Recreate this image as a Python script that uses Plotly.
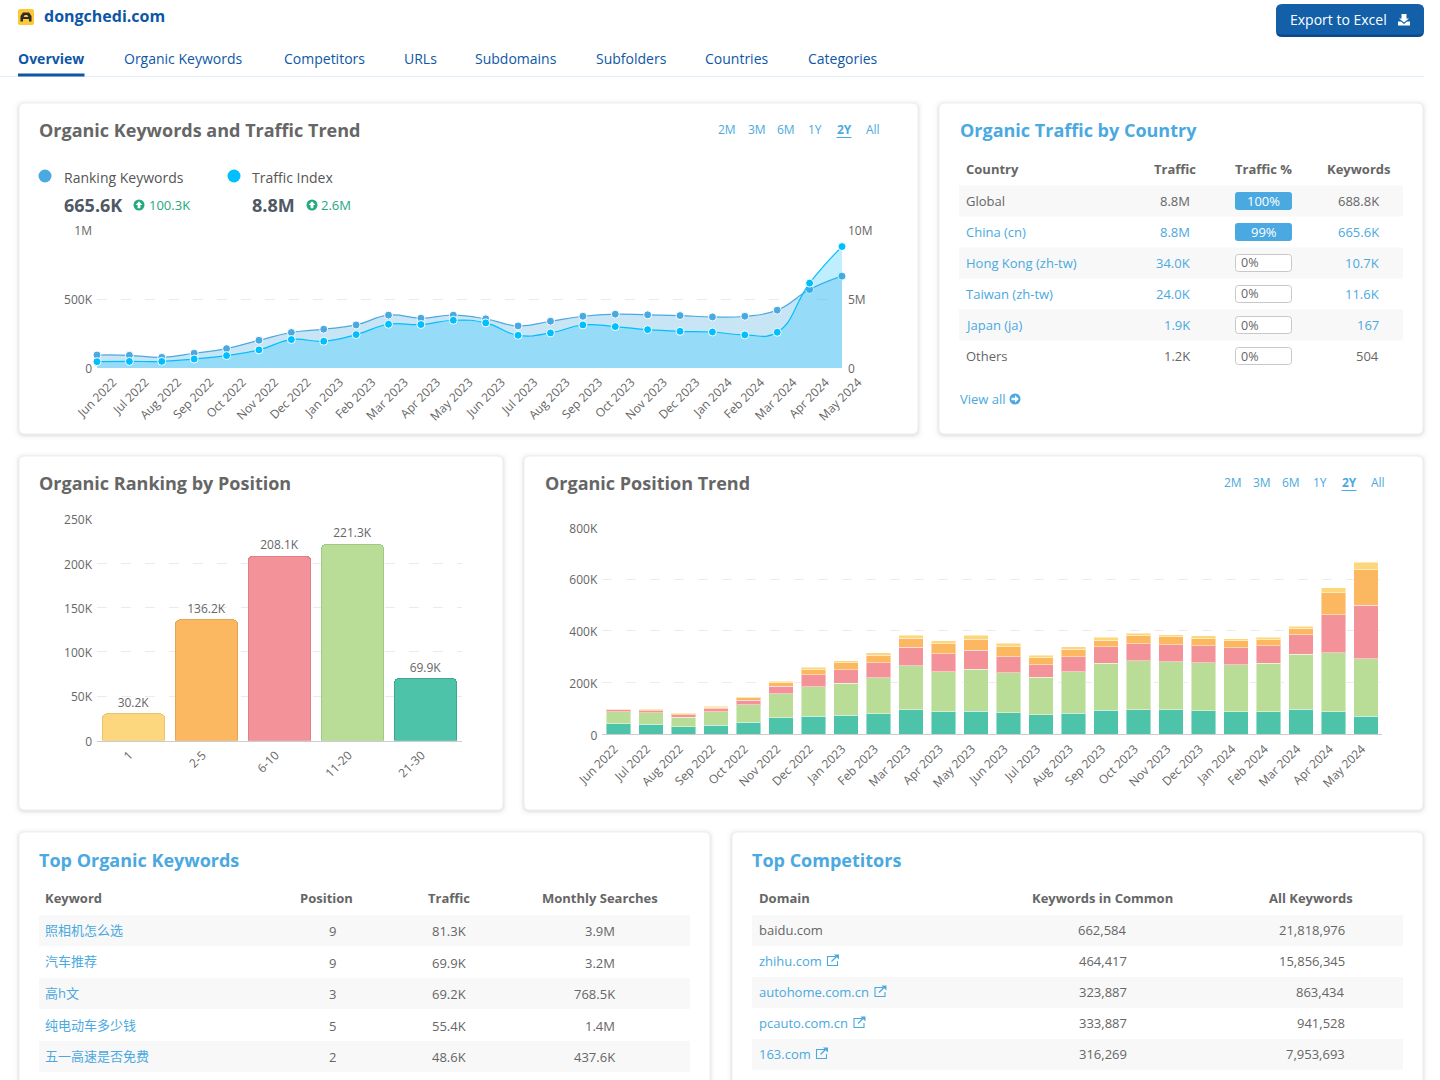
import plotly.graph_objects as go

# ---------- data ----------
months = ["Jun 2022","Jul 2022","Aug 2022","Sep 2022","Oct 2022","Nov 2022","Dec 2022","Jan 2023","Feb 2023","Mar 2023","Apr 2023","May 2023",
          "Jun 2023","Jul 2023","Aug 2023","Sep 2023","Oct 2023","Nov 2023","Dec 2023","Jan 2024","Feb 2024","Mar 2024","Apr 2024","May 2024"]
ranking_keywords = [94000,92000,77000,107000,140000,201000,257000,281000,312000,383000,361000,383000,356000,305000,339000,375000,390000,385000,380000,370000,375000,419000,569000,665600]
traffic_index = [460000,480000,480000,650000,900000,1310000,2060000,1940000,2420000,3170000,3150000,3460000,3270000,2370000,2540000,3120000,3000000,2780000,2660000,2610000,2400000,2590000,6150000,8800000]

position_labels = ["1","2-5","6-10","11-20","21-30"]
position_values = [30200,136200,208100,221300,69900]
position_text = ["30.2K","136.2K","208.1K","221.3K","69.9K"]

pos_21_30 = [40,38.6,28.3,34.8,46.4,63,69.6,73.4,78.6,94,87.6,90,83.7,74.7,81.2,92.8,94,94,91.5,86.3,86.3,96.6,86.3,69.9]
pos_11_20 = [48,43.8,37.4,51.5,67,94,114.6,123.7,140.4,171,154.6,161,153.3,145.6,161,181.6,189.4,185.5,184.2,181.6,188,212.6,228,221.3]
pos_6_10 = [7,9,9,11.6,18,29.6,45,51.5,56.7,72,69.6,73.4,61.8,47.7,58,63,67,65.7,65.7,65.7,67,74.7,146.9,208.1]
pos_2_5 = [2,3.9,5.2,6.4,10.3,12.9,20.6,27,29.6,34.8,38.6,43.8,38.6,27,28.3,27,29.6,30.9,28.3,27,24.5,25.8,85,136.2]
pos_1 = [1.5,1.3,2.6,3.9,2.6,5.2,9,7.7,9,11.6,11.6,15.5,14.2,10.3,9,10.3,10.3,7.7,10.3,9,9,7.7,20.6,30.2]

country_names = ["Global","China (cn)","Hong Kong (zh-tw)","Taiwan (zh-tw)","Japan (ja)","Others"]
country_traffic = ["8.8M","8.8M","34.0K","24.0K","1.9K","1.2K"]
country_share = ["100%","99%","0%","0%","0%","0%"]
country_keywords = ["688.8K","665.6K","10.7K","11.6K","167","504"]
country_linked = [False,True,True,True,True,False]

kw_names = ["照相机怎么选","汽车推荐","高h文","纯电动车多少钱","五一高速是否免费"]
kw_position = ["9","9","3","5","2"]
kw_traffic = ["81.3K","69.9K","69.2K","55.4K","48.6K"]
kw_searches = ["3.9M","3.2M","768.5K","1.4M","437.6K"]

comp_domains = ["baidu.com","zhihu.com","autohome.com.cn","pcauto.com.cn","163.com"]
comp_common = ["662,584","464,417","323,887","333,887","316,269"]
comp_all = ["21,818,976","15,856,345","863,434","941,528","7,953,693"]

tabs = ["Overview","Organic Keywords","Competitors","URLs","Subdomains","Subfolders","Countries","Categories"]
ranges = ["2M","3M","6M","1Y","2Y","All"]

# ---------- helpers ----------
W, H = 1440, 1080
FONT = "Open Sans, Noto Sans CJK SC, sans-serif"
AXFONT = "Open Sans, sans-serif"
GREY, DARK, LINK, NAVY, GREEN = "#666666", "#4f5864", "#4aa9e0", "#0d57a6", "#23a97e"
BAND = "#f8f8f8"
X = lambda p: p / W
Y = lambda p: 1 - p / H
shapes, annos = [], []

def txt(x, y, s, size=13, color=GREY, anchor="left", bold=False):
    annos.append(dict(x=X(x), y=Y(y), xref="paper", yref="paper", text=s, showarrow=False,
                      xanchor=anchor, yanchor="middle", borderpad=0, borderwidth=0,
                      font=dict(family=FONT, size=size, color=color, weight=700 if bold else 400)))

def rect(x0, y0, x1, y1, fill, line="rgba(0,0,0,0)", lw=0):
    shapes.append(dict(type="rect", xref="paper", yref="paper", x0=X(x0), x1=X(x1), y0=Y(y0), y1=Y(y1),
                       fillcolor=fill, line=dict(color=line, width=lw), layer="below"))

def rrect(x0, y0, x1, y1, r, fill, line="rgba(0,0,0,0)", lw=0):
    p = (f"M {X(x0+r)} {Y(y0)} L {X(x1-r)} {Y(y0)} Q {X(x1)} {Y(y0)} {X(x1)} {Y(y0+r)} "
         f"L {X(x1)} {Y(y1-r)} Q {X(x1)} {Y(y1)} {X(x1-r)} {Y(y1)} "
         f"L {X(x0+r)} {Y(y1)} Q {X(x0)} {Y(y1)} {X(x0)} {Y(y1-r)} "
         f"L {X(x0)} {Y(y0+r)} Q {X(x0)} {Y(y0)} {X(x0+r)} {Y(y0)} Z")
    shapes.append(dict(type="path", xref="paper", yref="paper", path=p, fillcolor=fill,
                       line=dict(color=line, width=lw), layer="below"))

def circle(cx, cy, r, fill):
    shapes.append(dict(type="circle", xref="paper", yref="paper", x0=X(cx-r), x1=X(cx+r),
                       y0=Y(cy+r), y1=Y(cy-r), fillcolor=fill, line=dict(width=0), layer="above"))

def poly(pts, fill=None, line=None, lw=1, close=True):
    p = "M " + " L ".join(f"{X(a)} {Y(b)}" for a, b in pts) + (" Z" if close else "")
    shapes.append(dict(type="path", xref="paper", yref="paper", path=p,
                       fillcolor=fill if fill else "rgba(0,0,0,0)",
                       line=dict(color=line if line else "rgba(0,0,0,0)", width=lw if line else 0),
                       layer="above"))

def card(x0, y0, x1, y1):
    for grow, alpha in ((5, .012), (3, .018), (2, .025), (1, .035)):
        rrect(x0-grow, y0-grow+1, x1+grow, y1+grow+1, 8, f"rgba(0,0,0,{alpha})")
    rrect(x0, y0, x1, y1, 6, "#ffffff", "#efefef", 1)

def up_icon(cx, cy, color=GREEN):
    circle(cx, cy, 5.5, color)
    poly([(cx, cy-3.8), (cx+3.4, cy), (cx+1.4, cy), (cx+1.4, cy+3.2), (cx-1.4, cy+3.2), (cx-1.4, cy), (cx-3.4, cy)], fill="#ffffff")

def ext_icon(x, y):
    poly([(x+3.5, y-4), (x-5, y-4), (x-5, y+5), (x+5, y+5), (x+5, y+0.5)], line=LINK, lw=1.1, close=False)
    poly([(x-1, y+1), (x+5, y-5)], line=LINK, lw=1.3, close=False)
    poly([(x+1.5, y-6), (x+6.5, y-6), (x+6.5, y-1)], fill=LINK)

# ---------- page header ----------
rrect(18, 9, 34, 25, 2, "#fcc934")
poly([(20.5, 21.5), (20.5, 16), (23, 12.5), (29, 12.5), (31.5, 16), (31.5, 21.5), (29, 21.5), (29, 19), (23, 19), (23, 21.5)], fill="#2b2b2b")
poly([(23.5, 17), (24.8, 15), (27.2, 15), (28.5, 17)], fill="#fcc934")
txt(44, 16, "dongchedi.com", 16, NAVY, bold=True)

rrect(1276, 5, 1424, 37, 6, "#0b4a8f")
rrect(1276, 4, 1424, 34.5, 6, "#135fa8")
txt(1290, 20, "Export to Excel", 14, "#ffffff")
poly([(1401.5, 14), (1406.5, 14), (1406.5, 18.5), (1409, 18.5), (1404, 22.5), (1399, 18.5), (1401.5, 18.5)], fill="#ffffff")
poly([(1398, 21.5), (1401, 21.5), (1404, 24), (1407, 21.5), (1410, 21.5), (1410, 25.5), (1398, 25.5)], fill="#ffffff")

tab_x = [18, 124, 284, 404, 475, 596, 705, 808]
for t, x in zip(tabs, tab_x):
    txt(x, 59, t, 14, NAVY, bold=(t == "Overview"))
rect(0, 76, 1424, 77, "#e3eef7")
rect(18, 73.5, 84.5, 76.5, NAVY)

# ---------- cards ----------
card(19, 103, 918, 434)
card(939, 103, 1423, 434)
card(19, 456, 503, 810)
card(524, 456, 1423, 810)
card(19, 832, 710, 1110)
card(732, 832, 1423, 1110)

txt(39, 130, "Organic Keywords and Traffic Trend", 18, GREY, bold=True)
txt(960, 130, "Organic Traffic by Country", 18, LINK, bold=True)
txt(39, 483, "Organic Ranking by Position", 18, GREY, bold=True)
txt(544.5, 483, "Organic Position Trend", 18, GREY, bold=True)
txt(39, 859.5, "Top Organic Keywords", 18, LINK, bold=True)
txt(752, 859.5, "Top Competitors", 18, LINK, bold=True)

for row_y, xs in ((130, (727, 756.5, 786, 815, 844, 873)), (483, (1232.5, 1262, 1291, 1320, 1349, 1378))):
    for r, x in zip(ranges, xs):
        txt(x, row_y, r, 12, LINK, "center", bold=(r == "2Y"))
    rect(xs[4]-7.5, row_y+7, xs[4]+7.5, row_y+8, LINK)

# legend block
circle(45, 176, 6.5, "#4aa9e0")
circle(234, 176, 6.5, "#00bfff")
txt(64, 178, "Ranking Keywords", 14, "#555555")
txt(252, 178, "Traffic Index", 14, "#555555")
txt(64, 205, "665.6K", 18, DARK, bold=True)
txt(252, 205, "8.8M", 18, DARK, bold=True)
up_icon(139, 205)
up_icon(312, 205)
txt(149, 205, "100.3K", 13, GREEN)
txt(321, 205, "2.6M", 13, GREEN)

# country table
txt(966, 169, "Country", 13, GREY, bold=True)
txt(1174.5, 169, "Traffic", 13, GREY, "center", bold=True)
txt(1263, 169, "Traffic %", 13, GREY, "center", bold=True)
txt(1358, 169, "Keywords", 13, GREY, "center", bold=True)
country_rows = [201, 232, 263, 294, 325, 356]
for i, yy in enumerate(country_rows):
    if i % 2 == 0:
        rect(959, yy-15.5, 1403, yy+15.5, BAND)
    col = LINK if country_linked[i] else GREY
    # the J of "Japan" hangs left of the text origin
    txt(966 - (1.5 if country_names[i].startswith("J") else 0), yy, country_names[i], 13, col)
    txt(1190, yy, country_traffic[i], 13, col, "right")
    txt(1379, yy, country_keywords[i], 13, col, "right")
    if country_share[i] == "0%":
        rrect(1235.5, yy-8.5, 1291.5, yy+8.5, 3, "#ffffff", "#c8c8c8", 1)
        txt(1241, yy, country_share[i], 12.5, GREY)
    else:
        rrect(1235, yy-9, 1292, yy+9, 3, LINK)
        txt(1263.5, yy, country_share[i], 13, "#ffffff", "center")
txt(960, 399, "View all", 13, LINK)
circle(1015, 399, 5.5, LINK)
poly([(1011.5, 397.8), (1015, 397.8), (1015, 395.3), (1018.8, 399), (1015, 402.7), (1015, 400.2), (1011.5, 400.2)], fill="#ffffff")

# keyword table
txt(45, 898, "Keyword", 13, GREY, bold=True)
txt(326.5, 898, "Position", 13, GREY, "center", bold=True)
txt(449, 898, "Traffic", 13, GREY, "center", bold=True)
txt(600, 898, "Monthly Searches", 13, GREY, "center", bold=True)
kw_rows = [930.5, 962, 993.5, 1025, 1056.5]
for i, yy in enumerate(kw_rows):
    if i % 2 == 0:
        rect(39, yy-15.5, 690, yy+15.5, BAND)
    txt(45, yy-0.5, kw_names[i], 13, LINK)
    txt(332, yy+0.5, kw_position[i], 13, GREY, "center")
    txt(466, yy+0.5, kw_traffic[i], 13, GREY, "right")
    txt(615, yy+0.5, kw_searches[i], 13, GREY, "right")

# competitors table
txt(758.5, 898, "Domain", 13, GREY, bold=True)
txt(1102, 898, "Keywords in Common", 13, GREY, "center", bold=True)
txt(1311, 898, "All Keywords", 13, GREY, "center", bold=True)
comp_rows = [930.5, 961.5, 992.5, 1023.5, 1054.5]
icon_x = [None, 832.5, 880, 859, 821.5]
for i, yy in enumerate(comp_rows):
    if i % 2 == 0:
        rect(752, yy-15.5, 1403, yy+15.5, BAND)
    txt(758.5, yy-0.5, comp_domains[i], 13, LINK if i else GREY)
    txt(1126.5, yy-0.5, comp_common[i], 13, GREY, "right")
    txt(1344.5, yy-0.5, comp_all[i], 13, GREY, "right")
    if icon_x[i]:
        ext_icon(icon_x[i], yy-1)

# ---------- traces ----------
fig = go.Figure()
fig.add_trace(go.Scatter(x=months, y=ranking_keywords, xaxis="x", yaxis="y", mode="lines+markers", name="Ranking Keywords",
                         line=dict(color="#4aa9e0", width=1.2, shape="spline", smoothing=1.3),
                         marker=dict(size=8, color="#4aa9e0", line=dict(color="#ffffff", width=1)),
                         fill="tozeroy", fillcolor="rgba(74,169,224,0.3)", cliponaxis=False))
fig.add_trace(go.Scatter(x=months, y=traffic_index, xaxis="x", yaxis="y2", mode="lines+markers", name="Traffic Index",
                         line=dict(color="#00bfff", width=1.2, shape="spline", smoothing=1.3),
                         marker=dict(size=8, color="#00bfff", line=dict(color="#ffffff", width=1)),
                         fill="tozeroy", fillcolor="rgba(0,191,255,0.25)", cliponaxis=False))

fig.add_trace(go.Bar(x=position_labels, y=position_values, xaxis="x2", yaxis="y3", text=position_text,
                     textposition="outside", cliponaxis=False, width=0.86,
                     textfont=dict(family=AXFONT, size=12, color=GREY),
                     marker=dict(color=["#fdd77d","#fcb860","#f49299","#b9dd96","#4dc3aa"],
                                 line=dict(color=["#e8c46f","#e5a654","#e07f86","#a3c884","#3aa891"], width=1),
                                 cornerradius=5), name="Position"))

stack = [("21-30", pos_21_30, "#4dc3aa"), ("11-20", pos_11_20, "#b9dd96"), ("6-10", pos_6_10, "#f49299"),
         ("2-5", pos_2_5, "#fcb860"), ("1", pos_1, "#fdd77d")]
for name, vals, col in stack:
    fig.add_trace(go.Bar(x=months, y=[v * 1000 for v in vals], xaxis="x3", yaxis="y4", name=name, width=0.74,
                         marker=dict(color=col, line=dict(color="rgba(255,255,255,0.45)", width=1), cornerradius=0)))

# ---------- axes ----------
def xdom(a, b): return [a / W, b / W]
def ydom(top, bottom): return [1 - bottom / H, 1 - top / H]
tick = dict(family=AXFONT, size=12, color=GREY)
grid = dict(showgrid=True, gridcolor="#ebebeb", griddash="10px,14px", gridwidth=1, zeroline=False,
            showline=False, ticks="", tickfont=tick, ticklabelstandoff=4, ticklabelshift=1)

fig.update_layout(
    width=W, height=H, margin=dict(l=0, r=0, t=0, b=0, pad=0, autoexpand=False), autosize=False,
    paper_bgcolor="#ffffff", plot_bgcolor="rgba(0,0,0,0)", showlegend=False,
    barmode="stack", shapes=shapes, annotations=annos, font=dict(family=AXFONT),
    xaxis=dict(domain=xdom(97, 842), anchor="y", type="category", range=[0, 23], showgrid=False, zeroline=False,
               showline=False, ticks="", tickangle=-45, tickfont=tick, ticklabelshift=16, ticklabelstandoff=4,
               categoryorder="array", categoryarray=months),
    yaxis=dict(domain=ydom(230, 368), anchor="x", range=[0, 1000000], tickvals=[0, 500000, 1000000],
               ticktext=["0", "500K", "1M"], **grid),
    yaxis2=dict(domain=ydom(230, 368), anchor="x", overlaying="y", side="right", range=[0, 10000000],
                tickvals=[0, 5000000, 10000000], ticktext=["0", "5M", "10M"], showgrid=False, zeroline=False,
                showline=False, ticks="", tickfont=tick, ticklabelstandoff=5, ticklabelshift=1),
    xaxis2=dict(domain=xdom(97, 462), anchor="y3", type="category", showgrid=False, zeroline=False, showline=True,
                linecolor="#cccccc", linewidth=1, ticks="", tickangle=-45, tickfont=tick, ticklabelstandoff=2, ticklabelshift=-4),
    yaxis3=dict(domain=ydom(519, 740.5), anchor="x2", range=[0, 250000],
                tickvals=[0, 50000, 100000, 150000, 200000, 250000],
                ticktext=["0", "50K", "100K", "150K", "200K", "250K"], **grid),
    xaxis3=dict(domain=xdom(602.25, 1382.25), anchor="y4", type="category", showgrid=False, zeroline=False, showline=True,
                linecolor="#cccccc", linewidth=1, ticks="", tickangle=-45, tickfont=tick, ticklabelstandoff=2, ticklabelshift=-4,
                categoryorder="array", categoryarray=months),
    yaxis4=dict(domain=ydom(527.3, 734.3), anchor="x3", range=[0, 800000],
                tickvals=[0, 200000, 400000, 600000, 800000],
                ticktext=["0", "200K", "400K", "600K", "800K"], **grid),
)

fig.write_html("out.html", config=dict(displayModeBar=False),
               post_script="document.body.style.margin='0';document.body.style.overflow='hidden';")
